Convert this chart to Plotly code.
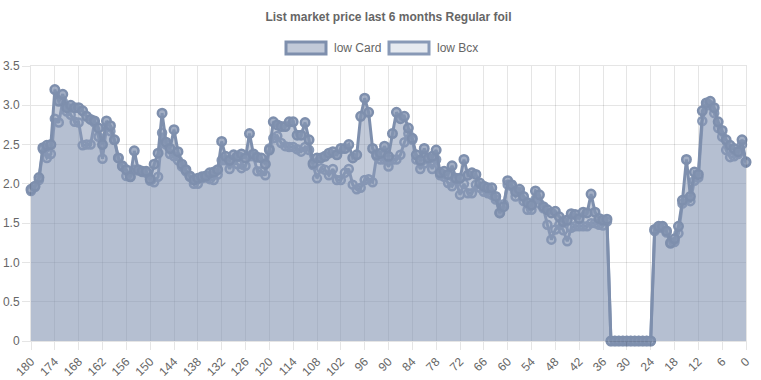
import plotly.graph_objects as go

days = list(range(180, -1, -1))

low_card = [
    1.93, 1.97, 2.08, 2.46, 2.49, 2.50, 3.20, 3.05, 3.14, 2.97,
    3.00, 2.97, 2.97, 2.93, 2.86, 2.82, 2.80, 2.71, 2.50, 2.80,
    2.74, 2.56, 2.33, 2.23, 2.18, 2.09, 2.42, 2.18, 2.16, 2.16,
    2.06, 2.25, 2.39, 2.90, 2.53, 2.45, 2.69, 2.41, 2.25, 2.18,
    2.10, 2.05, 2.07, 2.09, 2.10, 2.14, 2.15, 2.18, 2.54, 2.35,
    2.30, 2.37, 2.35, 2.38, 2.33, 2.64, 2.38, 2.34, 2.33, 2.25,
    2.43, 2.79, 2.75, 2.73, 2.73, 2.79, 2.79, 2.62, 2.62, 2.78,
    2.56, 2.26, 2.33, 2.33, 2.35, 2.39, 2.41, 2.37, 2.45, 2.45,
    2.50, 2.33, 2.37, 2.86, 3.09, 2.91, 2.45, 2.37, 2.39, 2.48,
    2.35, 2.64, 2.91, 2.83, 2.86, 2.71, 2.58, 2.37, 2.30, 2.45,
    2.33, 2.35, 2.43, 2.14, 2.16, 2.12, 2.23, 2.07, 2.07, 2.31,
    2.11, 2.14, 2.12, 2.01, 1.97, 1.95, 1.95, 1.84, 1.63, 1.71,
    2.04, 1.99, 1.90, 1.93, 1.84, 1.76, 1.73, 1.91, 1.86, 1.71,
    1.67, 1.63, 1.65, 1.58, 1.52, 1.54, 1.62, 1.61, 1.56, 1.64,
    1.63, 1.87, 1.64, 1.56, 1.54, 1.55, 0, 0, 0, 0,
    0, 0, 0, 0, 0, 0, 0, 1.42, 1.46, 1.46,
    1.40, 1.25, 1.30, 1.46, 1.79, 2.31, 1.84, 2.15, 2.12, 2.93,
    3.03, 3.05, 2.97, 2.79, 2.68, 2.56, 2.49, 2.45, 2.41, 2.56,
    2.28,
]

low_bcx = [
    1.91, 1.96, 2.05, 2.44, 2.33, 2.38, 2.83, 2.78, 3.05, 2.92,
    2.88, 2.79, 2.78, 2.49, 2.50, 2.50, 2.78, 2.60, 2.32, 2.72,
    2.67, 2.56, 2.33, 2.22, 2.10, 2.09, 2.18, 2.17, 2.15, 2.14,
    2.04, 2.02, 2.09, 2.65, 2.50, 2.38, 2.35, 2.30, 2.22, 2.16,
    2.09, 2.00, 2.00, 2.07, 2.08, 2.06, 2.05, 2.12, 2.30, 2.30,
    2.19, 2.30, 2.25, 2.20, 2.23, 2.35, 2.35, 2.16, 2.16, 2.11,
    2.45, 2.58, 2.61, 2.52, 2.48, 2.47, 2.47, 2.44, 2.41, 2.47,
    2.43, 2.24, 2.07, 2.20, 2.18, 2.11, 2.19, 2.05, 2.05, 2.14,
    2.19, 1.99, 1.93, 1.95, 2.05, 2.06, 2.02, 2.35, 2.31, 2.31,
    2.22, 2.31, 2.31, 2.37, 2.53, 2.64, 2.56, 2.31, 2.19, 2.26,
    2.31, 2.19, 2.31, 2.11, 2.09, 2.01, 1.97, 2.05, 1.86, 2.00,
    1.88, 1.88, 1.99, 1.95, 1.90, 1.88, 1.86, 1.80, 1.63, 1.74,
    1.99, 1.97, 1.84, 1.90, 1.78, 1.67, 1.67, 1.80, 1.75, 1.69,
    1.48, 1.29, 1.42, 1.48, 1.41, 1.27, 1.44, 1.46, 1.46, 1.46,
    1.46, 1.50, 1.50, 1.48, 1.47, 1.52, 0, 0, 0, 0,
    0, 0, 0, 0, 0, 0, 0, 1.40, 1.44, 1.44,
    1.38, 1.24, 1.26, 1.37, 1.75, 1.80, 1.78, 2.04, 2.08, 2.80,
    3.00, 3.00, 2.90, 2.71, 2.60, 2.43, 2.34, 2.35, 2.38, 2.50,
    2.27,
]

x_ticks = list(range(180, -1, -6))
y_ticks = [0, 0.5, 1.0, 1.5, 2.0, 2.5, 3.0, 3.5]
y_tick_text = ["0", "0.5", "1.0", "1.5", "2.0", "2.5", "3.0", "3.5"]

assert len(low_card) == len(days) == len(low_bcx)

card_line = "rgb(126,143,173)"
card_fill = "rgba(132,148,178,0.5)"
card_marker = "rgba(132,148,178,0.75)"
bcx_line = "rgb(136,153,182)"
bcx_fill = "rgba(132,148,178,0.2)"
grid = "rgba(0,0,0,0.1)"
text_col = "#666666"
font_family = "Liberation Sans, Arial, Helvetica, sans-serif"

fig = go.Figure()
fig.add_trace(go.Scatter(
    x=days, y=low_bcx, name="low Bcx", mode="lines+markers",
    fill="tozeroy", fillcolor=bcx_fill,
    line=dict(color=bcx_line, width=3),
    marker=dict(size=8, color=bcx_fill, line=dict(color=bcx_line, width=2.5)),
    cliponaxis=False,
))
fig.add_trace(go.Scatter(
    x=days, y=low_card, name="low Card", mode="lines+markers",
    fill="tozeroy", fillcolor=card_fill,
    line=dict(color=card_line, width=3),
    marker=dict(size=8.5, color=card_marker, line=dict(color=card_line, width=2.5)),
    cliponaxis=False,
))

L, R, T, B = 31, 746, 66, 341
W, H = 761, 380


def px(xp):
    return (xp - L) / (R - L)


def py(yp):
    return (B - yp) / (B - T)


shapes = []
annotations = []
legend_items = [("low Card", 286, 326, 332, card_fill, card_line),
                ("low Bcx", 389, 429, 435, bcx_fill, bcx_line)]
for name, x0, x1, tx, fc, lc in legend_items:
    shapes.append(dict(type="rect", xref="paper", yref="paper",
                       x0=px(x0), x1=px(x1), y0=py(54), y1=py(42),
                       fillcolor=fc, line=dict(color=lc, width=3), layer="above"))
    annotations.append(dict(xref="paper", yref="paper", x=px(tx), y=py(48),
                            text=name, showarrow=False, xanchor="left", yanchor="middle",
                            font=dict(family=font_family, size=12, color=text_col)))

fig.update_layout(
    width=W, height=H, autosize=False,
    margin=dict(l=L, r=W - R, t=T, b=H - B, pad=0, autoexpand=False),
    paper_bgcolor="white", plot_bgcolor="white",
    showlegend=False,
    title=dict(text="List market price last 6 months Regular foil",
               x=0.5, xanchor="center", xref="paper",
               y=1 - 17 / H, yanchor="middle", yref="container",
               font=dict(family=font_family, size=12, color=text_col, weight="bold")),
    font=dict(family=font_family, size=12, color=text_col),
    shapes=shapes, annotations=annotations,
    xaxis=dict(range=[180, 0], tickvals=x_ticks, tickangle=-45, automargin=False,
               showgrid=True, gridcolor=grid, gridwidth=1,
               ticks="outside", ticklen=8, tickcolor=grid,
               zeroline=False, showline=True, linecolor=grid, mirror=True,
               tickfont=dict(family=font_family, size=12, color=text_col)),
    yaxis=dict(range=[0, 3.5], tickvals=y_ticks, ticktext=y_tick_text, automargin=False,
               showgrid=True, gridcolor=grid, gridwidth=1,
               ticks="outside", ticklen=8, tickcolor=grid,
               zeroline=False, showline=True, linecolor=grid, mirror=True,
               tickfont=dict(family=font_family, size=12, color=text_col)),
)

fig.write_html("out.html",
               config={"displayModeBar": False},
               post_script="document.body.style.margin='0';document.body.style.overflow='hidden';")
